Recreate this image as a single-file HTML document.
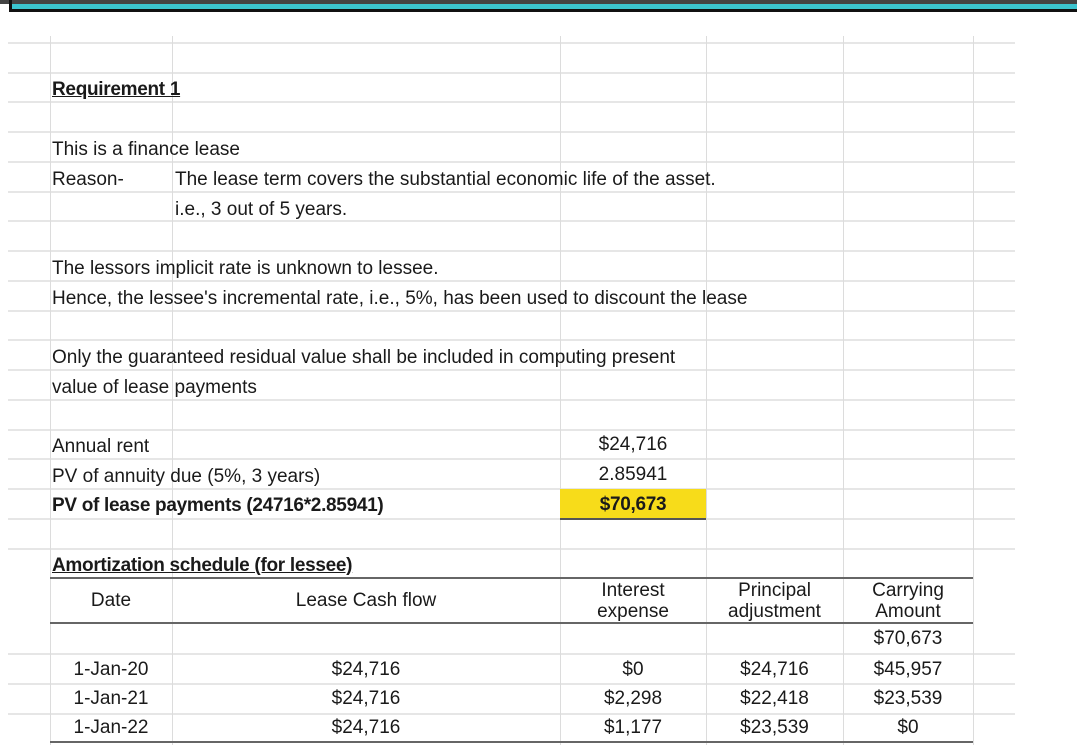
<!DOCTYPE html>
<html><head><style>
body{margin:0;width:1077px;height:745px;background:#fff;position:relative;overflow:hidden;font-family:"Liberation Sans",sans-serif;color:#1a1a1a;font-size:19px}
.h{position:absolute;left:8px;width:1007px;height:2px;background:#e6e6e6}
.v{position:absolute;top:36px;height:709px;width:1px;background:#dcdcdc}
.t{position:absolute;white-space:nowrap;line-height:21px}
.c{text-align:center}
.b{font-weight:bold;letter-spacing:-0.3px}
.k{position:absolute;height:2px;background:#666;left:50px;width:923px}
</style></head><body>
<div style="position:absolute;left:0;top:0;width:1077px;height:4px;background:#444"></div>
<div style="position:absolute;left:10px;top:4px;width:1067px;height:5px;background:#3cc4cf"></div>
<div style="position:absolute;left:10px;top:9px;width:1067px;height:3px;background:#111"></div>
<div style="position:absolute;left:9px;top:0;width:3px;height:12px;background:#111"></div>

<div class="h" style="top:42px"></div><div class="h" style="top:72px"></div><div class="h" style="top:101px"></div><div class="h" style="top:131px"></div><div class="h" style="top:161px"></div><div class="h" style="top:191px"></div><div class="h" style="top:220px"></div><div class="h" style="top:250px"></div><div class="h" style="top:280px"></div><div class="h" style="top:310px"></div><div class="h" style="top:339px"></div><div class="h" style="top:369px"></div><div class="h" style="top:399px"></div><div class="h" style="top:429px"></div><div class="h" style="top:458px"></div><div class="h" style="top:488px"></div><div class="h" style="top:518px"></div><div class="h" style="top:548px"></div><div class="h" style="top:653px"></div><div class="h" style="top:683px"></div><div class="h" style="top:713px"></div>

<div class="v" style="left:50px"></div><div class="v" style="left:172px"></div><div class="v" style="left:560px"></div><div class="v" style="left:706px"></div><div class="v" style="left:843px"></div><div class="v" style="left:973px"></div>

<div style="position:absolute;left:560px;top:489px;width:146px;height:29px;background:#f7dc1a;border-bottom:2px solid #555"></div>

<div class="k" style="top:577px"></div><div class="k" style="top:622px"></div><div class="k" style="top:741px"></div>

<div class="t b" style="left:52px;top:79px;text-decoration:underline">Requirement 1</div>
<div class="t" style="left:52px;top:139px">This is a finance lease</div>
<div class="t" style="left:52px;top:169px">Reason-</div>
<div class="t" style="left:175px;top:169px">The lease term covers the substantial economic life of the asset.</div>
<div class="t" style="left:175px;top:199px">i.e., 3 out of 5 years.</div>
<div class="t" style="left:52px;top:258px">The lessors implicit rate is unknown to lessee.</div>
<div class="t" style="left:52px;top:288px">Hence, the lessee's incremental rate, i.e., 5%, has been used to discount the lease</div>
<div class="t" style="left:52px;top:347px">Only the guaranteed residual value shall be included in computing present</div>
<div class="t" style="left:52px;top:377px">value of lease payments</div>
<div class="t" style="left:52px;top:436px">Annual rent</div>
<div class="t" style="left:52px;top:466px">PV of annuity due (5%, 3 years)</div>
<div class="t b" style="left:52px;top:495px">PV of lease payments (24716*2.85941)</div>
<div class="t c" style="left:560px;width:146px;top:434px">$24,716</div>
<div class="t c" style="left:560px;width:146px;top:464px">2.85941</div>
<div class="t c b" style="left:560px;width:146px;top:494px">$70,673</div>
<div class="t b" style="left:52px;top:555px;text-decoration:underline">Amortization schedule (for lessee)</div>

<div class="t c" style="left:50px;width:122px;top:590px">Date</div>
<div class="t c" style="left:172px;width:388px;top:590px">Lease Cash flow</div>
<div class="t c" style="left:560px;width:146px;top:580px">Interest<br>expense</div>
<div class="t c" style="left:706px;width:137px;top:580px">Principal<br>adjustment</div>
<div class="t c" style="left:843px;width:130px;top:580px">Carrying<br>Amount</div>

<div class="t c" style="left:843px;width:130px;top:628px">$70,673</div>

<div class="t c" style="left:50px;width:122px;top:659px">1-Jan-20</div>
<div class="t c" style="left:172px;width:388px;top:659px">$24,716</div>
<div class="t c" style="left:560px;width:146px;top:659px">$0</div>
<div class="t c" style="left:706px;width:137px;top:659px">$24,716</div>
<div class="t c" style="left:843px;width:130px;top:659px">$45,957</div>

<div class="t c" style="left:50px;width:122px;top:688px">1-Jan-21</div>
<div class="t c" style="left:172px;width:388px;top:688px">$24,716</div>
<div class="t c" style="left:560px;width:146px;top:688px">$2,298</div>
<div class="t c" style="left:706px;width:137px;top:688px">$22,418</div>
<div class="t c" style="left:843px;width:130px;top:688px">$23,539</div>

<div class="t c" style="left:50px;width:122px;top:717px">1-Jan-22</div>
<div class="t c" style="left:172px;width:388px;top:717px">$24,716</div>
<div class="t c" style="left:560px;width:146px;top:717px">$1,177</div>
<div class="t c" style="left:706px;width:137px;top:717px">$23,539</div>
<div class="t c" style="left:843px;width:130px;top:717px">$0</div>
</body></html>
